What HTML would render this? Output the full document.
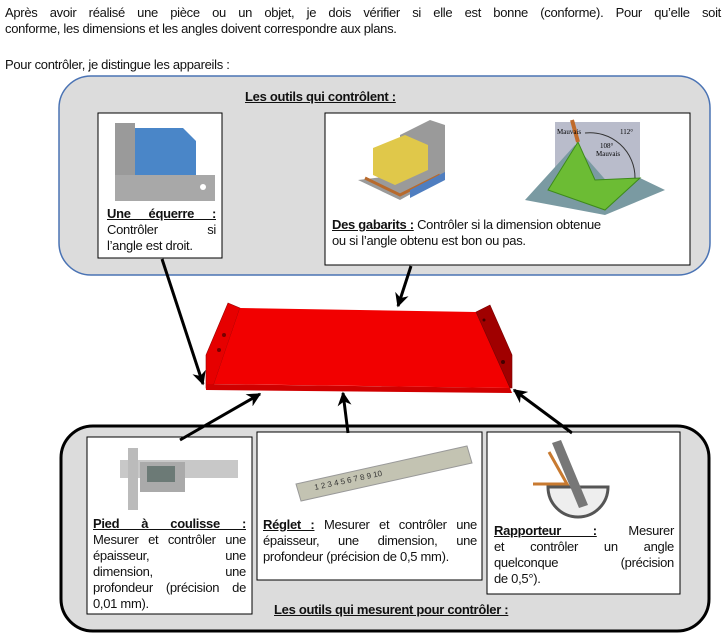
<!DOCTYPE html>
<html><head><meta charset="utf-8"><style>
body{margin:0;width:728px;height:639px;background:#fff;position:relative;overflow:hidden;font-family:"Liberation Sans",Arial,sans-serif;font-size:13px;letter-spacing:-0.3px;color:#111}
.t{position:absolute;line-height:16px}
.t div{white-space:nowrap}
.t div.j{text-align:justify;text-align-last:justify;white-space:normal}
u{font-weight:bold}
svg{position:absolute;left:0;top:0}
</style></head><body>
<svg width="728" height="639">
<defs>
<marker id="b" viewBox="0 0 10 10" markerWidth="14" markerHeight="14" refX="9" refY="5" orient="auto" markerUnits="userSpaceOnUse"><path d="M0,0 L10,5 L0,10 L3,5 Z" fill="#000"/></marker></defs>
<rect x="59" y="76" width="651" height="199" rx="32" fill="#dcdcdc" stroke="#4a73b4" stroke-width="1.5"/>
<rect x="61" y="426" width="648" height="205" rx="32" fill="#dcdcdc" stroke="#000" stroke-width="3"/>
<rect x="98" y="113" width="124" height="145" fill="#fff" stroke="#000"/>
<rect x="325" y="113" width="365" height="152" fill="#fff" stroke="#000"/>
<rect x="87" y="437" width="165" height="177" fill="#fff" stroke="#000"/>
<rect x="257" y="432" width="225" height="148" fill="#fff" stroke="#000"/>
<rect x="487" y="432" width="193" height="162" fill="#fff" stroke="#000"/>
<rect x="115" y="123" width="20" height="78" fill="#9a9a9a"/>
<path d="M135,128 H183 L196,141 V175 H135 Z" fill="#4a86c8"/>
<rect x="115" y="175" width="100" height="26" fill="#a8a8a8"/>
<circle cx="203" cy="187" r="3" fill="#fff"/>
<path d="M358,180 L400,200 L445,175 L445,125 L430,120 L400,135 L400,175 Z" fill="#9a9a9a"/>
<path d="M373,148 L405,135 L428,145 L428,170 L395,185 L373,175 Z" fill="#e0c84a"/>
<path d="M365,178 L400,195 L440,175" stroke="#b86a2c" stroke-width="3" fill="none"/>
<path d="M410,190 L445,172 L445,180 L410,198Z" fill="#4f7ec0"/>
<rect x="555" y="122" width="85" height="60" fill="#b9bccb"/>
<path d="M525,200 L575,145 L610,185 L640,178 L665,190 L605,215 Z" fill="#7a9aa2"/>
<path d="M548,190 L578,142 L595,180 L640,178 L605,210 Z" fill="#6cbc34" stroke="#3d8a1a"/>
<line x1="572" y1="120" x2="578" y2="142" stroke="#c06a2a" stroke-width="4"/>
<g font-size="7" font-family="Liberation Serif" letter-spacing="0">
<text x="557" y="134">Mauvais</text><text x="620" y="134">112°</text><text x="600" y="148">108°</text><text x="596" y="156">Mauvais</text></g>
<path d="M585,133 A45,45 0 0 1 635,178" stroke="#333" fill="none"/>
<path d="M206,388 L206,355 L228,303 L240,308 L214,384 Z" fill="#e60000" stroke="#900" stroke-width=".6"/>
<path d="M214,384 L240,308 L476,312 L510,388 Z" fill="#f20000"/>
<path d="M476,312 L490,305 L512,355 L512,388 L510,388 Z" fill="#a00000" stroke="#700" stroke-width=".6"/>
<path d="M206,384 L510,388 L512,393 L206,390 Z" fill="#d00000"/>
<circle cx="224" cy="335" r="2" fill="#700"/><circle cx="219" cy="350" r="2" fill="#700"/><circle cx="484" cy="320" r="1.5" fill="#400"/><circle cx="503" cy="362" r="2" fill="#400"/>
<rect x="120" y="460" width="118" height="18" fill="#c8c8c8"/>
<rect x="140" y="462" width="45" height="30" fill="#aaa"/>
<rect x="147" y="466" width="28" height="16" fill="#6c7a76"/>
<rect x="128" y="448" width="10" height="62" fill="#bbb"/>
<path d="M296,484 L467,446 L472,463 L301,501 Z" fill="#c3c3b2" stroke="#999"/>
<text x="315" y="490" font-size="8" transform="rotate(-12 315 490)" fill="#333" letter-spacing="0">1 2 3 4 5 6 7 8 9 10</text>
<path d="M548,487 A30,30 0 0 0 608,487 Z" fill="#eee" stroke="#555" stroke-width="3"/>
<path d="M549,452 L567,484 L533,484" stroke="#c87a30" stroke-width="3" fill="none"/>
<path d="M552,443 L561,440 L588,505 L579,508 Z" fill="#777"/>
<g stroke="#000" stroke-width="3" fill="none">
<line x1="162" y1="259" x2="203" y2="384" marker-end="url(#b)"/>
<line x1="411" y1="266" x2="398" y2="306" marker-end="url(#b)"/>
<line x1="180" y1="440" x2="260" y2="394" marker-end="url(#b)"/>
<line x1="348" y1="433" x2="343" y2="393" marker-end="url(#b)"/>
<line x1="572" y1="433" x2="514" y2="390" marker-end="url(#b)"/>
</g>
</svg>
<div class="t" style="left:5px;top:5px;width:716px"><div class="j">Après avoir réalisé une pièce ou un objet, je dois vérifier si elle est bonne (conforme). Pour qu’elle soit</div><div>conforme, les dimensions et les angles doivent correspondre aux plans.</div></div>
<div class="t" style="left:5px;top:57px">Pour contrôler, je distingue les appareils :</div>
<div class="t" style="left:245px;top:89px;font-weight:bold;text-decoration:underline">Les outils qui contrôlent :</div>
<div class="t" style="left:107px;top:206px;width:109px"><div class="j"><u>Une équerre :</u></div><div class="j">Contrôler si</div><div>l’angle est droit.</div></div>
<div class="t" style="left:332px;top:217px;width:355px"><div><u>Des gabarits :</u> Contrôler si la dimension obtenue</div><div>ou si l’angle obtenu est bon ou pas.</div></div>
<div class="t" style="left:93px;top:516px;width:153px"><div class="j"><u>Pied à coulisse :</u></div><div class="j">Mesurer et contrôler une</div><div class="j">épaisseur, une</div><div class="j">dimension, une</div><div class="j">profondeur (précision de</div><div>0,01 mm).</div></div>
<div class="t" style="left:263px;top:517px;width:214px"><div class="j"><u>Réglet :</u> Mesurer et contrôler une</div><div class="j">épaisseur, une dimension, une</div><div>profondeur (précision de 0,5 mm).</div></div>
<div class="t" style="left:494px;top:523px;width:180px"><div class="j"><u>Rapporteur :</u> Mesurer</div><div class="j">et contrôler un angle</div><div class="j">quelconque (précision</div><div>de 0,5°).</div></div>
<div class="t" style="left:274px;top:602px;font-weight:bold;text-decoration:underline">Les outils qui mesurent pour contrôler :</div>
</body></html>
